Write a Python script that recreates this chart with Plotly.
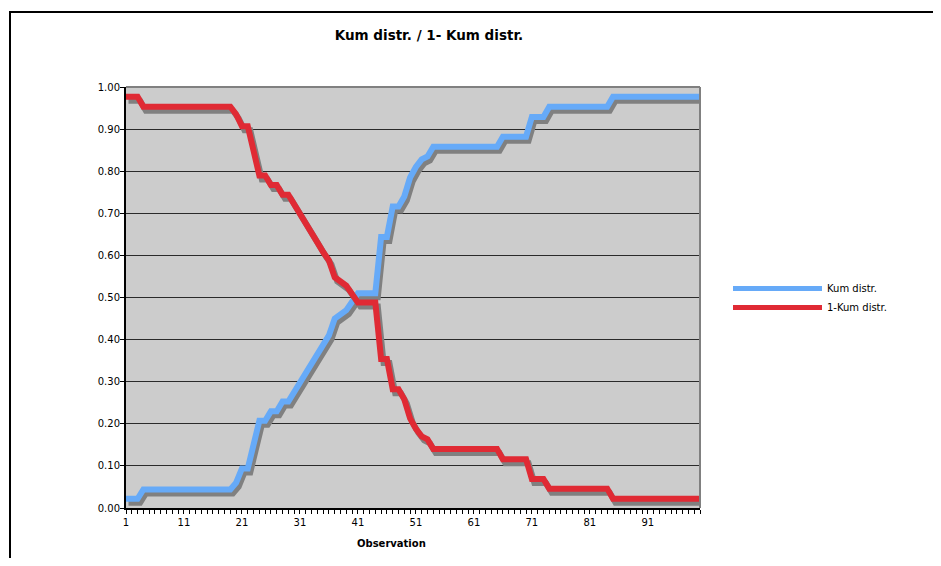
import plotly.graph_objects as go

# ---------------- data ----------------
obs = list(range(1, 101))

kum = ([0.022] * 3 + [0.044] * 16 + [0.060] + [0.094] * 2 + [0.155] +
       [0.207] * 2 + [0.230] * 2 + [0.253] * 2 +
       [0.276, 0.298, 0.321, 0.344, 0.367, 0.390, 0.410] +
       [0.450, 0.462, 0.470, 0.490] + [0.510] * 4 + [0.644] * 2 +
       [0.716] * 2 + [0.740, 0.785, 0.810, 0.828, 0.835] +
       [0.858] * 12 + [0.882] * 5 + [0.929] * 3 + [0.953] * 11 +
       [0.977] * 16)

kum_c = ([0.977] * 3 + [0.953] * 16 + [0.935] + [0.907] * 2 + [0.845] +
         [0.790] * 2 + [0.767] * 2 + [0.744] * 2 +
         [0.720, 0.700, 0.677, 0.654, 0.631, 0.608, 0.588] +
         [0.548, 0.536, 0.528, 0.508] + [0.488] * 4 + [0.354] * 2 +
         [0.282] * 2 + [0.258, 0.213, 0.188, 0.170, 0.163] +
         [0.140] * 12 + [0.116] * 5 + [0.069] * 3 + [0.046] * 11 +
         [0.022] * 16)

x_ticktext = [str(v) if (v - 1) % 10 == 0 else "" for v in obs]
y_ticks = [i / 10 for i in range(11)]

series_names = ["Kum distr.", "1-Kum distr."]
chart_title = "Kum distr. / 1- Kum distr."
x_title = "Observation"

# ---------------- style ----------------
OFF = 8                      # page body margin of the html page
W, H = 941 - OFF, 566 - 2 * OFF
SX0, SX1 = 126, 700          # plot area on screen (x)
SY0, SY1 = 87, 508           # plot area on screen (y)
L, T = SX0 - OFF, SY0 - OFF
PW, PH = SX1 - SX0, SY1 - SY0
R, B = W - L - PW, H - T - PH

BLUE = "#66aaf8"
RED = "#e02a34"
SHADOW = "#808080"
FONT = "DejaVu Sans"
LW = 6
DX_PX, DY_PX = 2.5, 4.0
dxu = DX_PX * (obs[-1] - obs[0]) / PW
dyu = DY_PX / PH


def px_x(s):
    return (s - SX0) / PW


def px_y(s):
    return (SY1 - s) / PH


def cx(s):
    return (s - OFF) / W


def cy(s):
    return 1 - (s - OFF) / H


fig = go.Figure()
for vals, color, name in [(kum, BLUE, series_names[0]),
                          (kum_c, RED, series_names[1])]:
    fig.add_trace(go.Scatter(
        x=[v + dxu for v in obs], y=[v - dyu for v in vals], mode="lines",
        line=dict(color=SHADOW, width=LW), showlegend=False,
        hoverinfo="skip"))
    fig.add_trace(go.Scatter(
        x=obs, y=vals, mode="lines", name=name,
        line=dict(color=color, width=LW)))

fig.update_layout(
    width=W, height=H,
    margin=dict(l=L, r=R, t=T, b=B, pad=0),
    paper_bgcolor="white",
    plot_bgcolor="#cccccc",
    font=dict(family=FONT, size=10, color="black"),
    title=dict(text=chart_title, x=cx(429), xref="container",
               xanchor="center", y=cy(35), yref="container",
               yanchor="middle",
               font=dict(family=FONT, size=13.5, weight="bold",
                         color="black")),
    showlegend=True,
    legend=dict(xref="container", yref="container", x=cx(728), y=cy(274),
                xanchor="left", yanchor="top", itemwidth=89,
                bgcolor="rgba(0,0,0,0)", borderwidth=0,
                font=dict(family=FONT, size=10, color="black"),
                tracegroupgap=0, itemsizing="constant"),
)

fig.update_xaxes(
    range=[obs[0], obs[-1]], tickmode="array", tickvals=obs,
    ticktext=x_ticktext, ticks="outside", ticklen=4, tickwidth=1,
    tickcolor="black", showgrid=False, zeroline=False, showline=True,
    linecolor="black", linewidth=1.5, tickangle=0,
    tickfont=dict(family=FONT, size=10, color="black"))

fig.update_yaxes(
    range=[0, 1], tickmode="array", tickvals=y_ticks, tickformat=".2f",
    ticks="outside", ticklen=4, tickwidth=1, tickcolor="black",
    ticklabelstandoff=-2,
    showgrid=True, gridcolor="#2a2a2a", gridwidth=1, zeroline=False,
    showline=True, linecolor="black", linewidth=2,
    tickfont=dict(family=FONT, size=10, color="black"))

# x axis title
fig.add_annotation(text=x_title, xref="paper", yref="paper",
                   x=px_x(391), y=px_y(543), showarrow=False,
                   xanchor="center", yanchor="middle",
                   font=dict(family=FONT, size=10, weight="bold",
                             color="black"))

# plot area top/right border (grey)
fig.add_shape(type="line", xref="paper", yref="paper", x0=0, x1=1, y0=1, y1=1,
              line=dict(color="#808080", width=2), layer="above")
fig.add_shape(type="line", xref="paper", yref="paper", x0=1, x1=1, y0=0, y1=1,
              line=dict(color="#808080", width=2), layer="above")

# chart area frame
fig.add_shape(type="rect", xref="paper", yref="paper",
              x0=px_x(10), x1=px_x(937), y0=px_y(600), y1=px_y(12),
              line=dict(color="black", width=2), fillcolor="rgba(0,0,0,0)",
              layer="below")

fig.write_html("out.html")
